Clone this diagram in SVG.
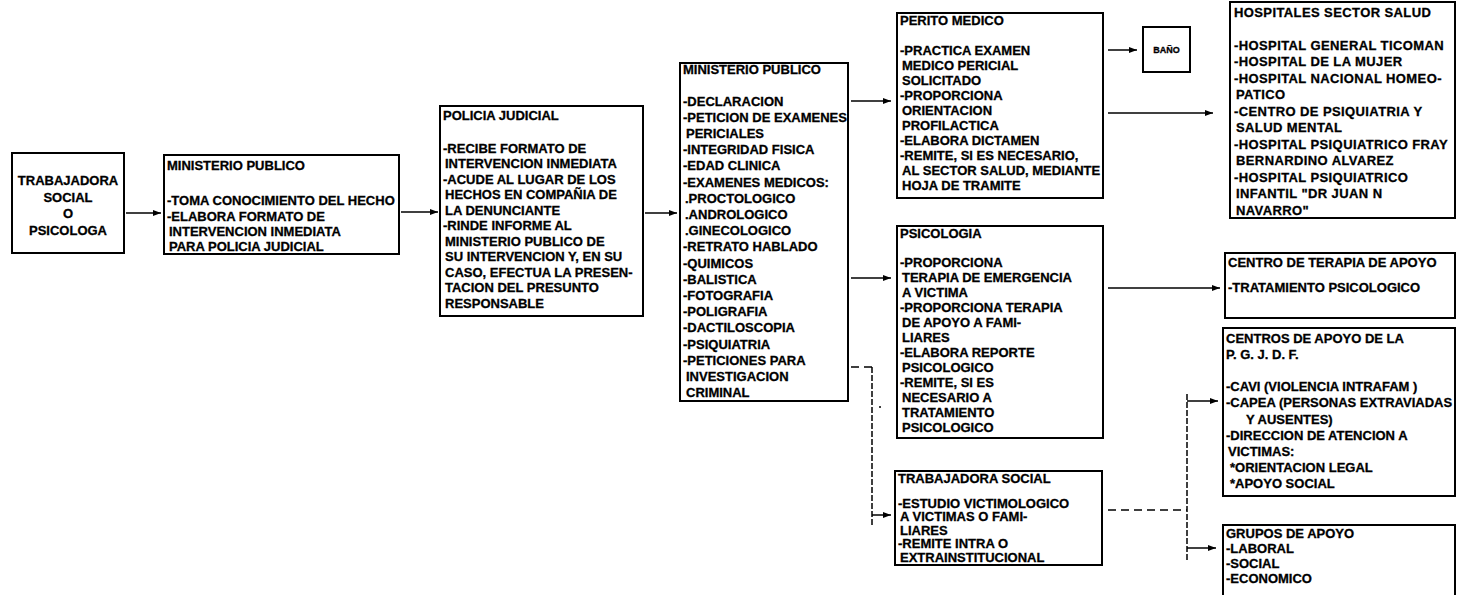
<svg xmlns="http://www.w3.org/2000/svg" width="1460" height="595" viewBox="0 0 1460 595">
<style>
.bg{fill:#ffffff}
.box{fill:#ffffff;stroke:#000;stroke-width:2}
.t{font-family:"Liberation Sans",Arial,sans-serif;font-weight:bold;font-size:13px;fill:#000;stroke:#000;stroke-width:0.3}
.c{text-anchor:middle}
.w{letter-spacing:0.4px}
.sm{font-size:9px}
.ln{fill:none;stroke:#000;stroke-width:1.5}
.dh{fill:none;stroke:#000;stroke-width:1.5;stroke-dasharray:8 5}
.dv{fill:none;stroke:#000;stroke-width:1.5;stroke-dasharray:6 2}
</style>
<defs>
<marker id="ah" markerUnits="userSpaceOnUse" markerWidth="8" markerHeight="6" refX="8" refY="3" orient="auto">
<path d="M0,0 L8,3 L0,6 z" fill="#000"/>
</marker>
</defs>
<rect class="bg" x="0" y="0" width="1460" height="595"/>

<g id="connectors">
<line class="ln" x1="126" y1="213" x2="161" y2="213" marker-end="url(#ah)"/>
<line class="ln" x1="401" y1="212" x2="438" y2="212" marker-end="url(#ah)"/>
<line class="ln" x1="645" y1="213" x2="677" y2="213" marker-end="url(#ah)"/>
<line class="ln" x1="851" y1="101" x2="891" y2="101" marker-end="url(#ah)"/>
<line class="ln" x1="851" y1="278" x2="891" y2="278" marker-end="url(#ah)"/>
<polyline class="dh" points="851,367 872,367"/>
<line class="dv" x1="872" y1="367" x2="872" y2="525"/>
<line class="ln" x1="872" y1="515" x2="891" y2="515" marker-end="url(#ah)"/>
<circle cx="880" cy="407" r="1" fill="#000"/>
<line class="ln" x1="1108" y1="50" x2="1137" y2="50" marker-end="url(#ah)"/>
<line class="ln" x1="1108" y1="113" x2="1213" y2="113" marker-end="url(#ah)"/>
<line class="ln" x1="1108" y1="288" x2="1220" y2="288" marker-end="url(#ah)"/>
<line class="dh" x1="1108" y1="510" x2="1187" y2="510"/>
<line class="dv" x1="1187" y1="394" x2="1187" y2="562"/>
<line class="ln" x1="1187" y1="401" x2="1218" y2="401" marker-end="url(#ah)"/>
<line class="ln" x1="1187" y1="548" x2="1216" y2="548" marker-end="url(#ah)"/>
</g>

<g id="n1">
<rect class="box" x="12" y="153" width="112" height="100"/>
<text class="t c" x="68" y="185">TRABAJADORA</text>
<text class="t c" x="68" y="201.5">SOCIAL</text>
<text class="t c" x="68" y="218">O</text>
<text class="t c" x="68" y="234.5">PSICOLOGA</text>
</g>

<g id="n2">
<rect class="box" x="164" y="155" width="235" height="99"/>
<text class="t" x="167" y="170">MINISTERIO PUBLICO</text>
<text class="t" x="167" y="205">-TOMA CONOCIMIENTO DEL HECHO</text>
<text class="t" x="167" y="220.5">-ELABORA FORMATO DE</text>
<text class="t" x="169" y="236">INTERVENCION INMEDIATA</text>
<text class="t" x="169" y="251">PARA POLICIA JUDICIAL</text>
</g>

<g id="n3">
<rect class="box" x="440" y="106" width="203" height="210"/>
<text class="t" x="443" y="120">POLICIA JUDICIAL</text>
<text class="t" x="443" y="152.5">-RECIBE FORMATO DE</text>
<text class="t" x="445" y="168">INTERVENCION INMEDIATA</text>
<text class="t" x="443" y="183.5">-ACUDE AL LUGAR DE LOS</text>
<text class="t" x="445" y="199">HECHOS EN COMPAÑIA DE</text>
<text class="t" x="445" y="214.5">LA DENUNCIANTE</text>
<text class="t" x="443" y="230">-RINDE INFORME AL</text>
<text class="t" x="445" y="245.5">MINISTERIO PUBLICO DE</text>
<text class="t" x="445" y="261">SU INTERVENCION Y, EN SU</text>
<text class="t" x="445" y="276.5">CASO, EFECTUA LA PRESEN-</text>
<text class="t" x="445" y="292">TACION DEL PRESUNTO</text>
<text class="t" x="445" y="307.5">RESPONSABLE</text>
</g>

<g id="n4">
<rect class="box" x="680" y="63" width="168" height="338"/>
<text class="t" x="683" y="73.5">MINISTERIO PUBLICO</text>
<text class="t" x="683" y="105.5">-DECLARACION</text>
<text class="t" x="683" y="121.7">-PETICION DE EXAMENES</text>
<text class="t" x="686" y="137.9">PERICIALES</text>
<text class="t" x="683" y="154.1">-INTEGRIDAD FISICA</text>
<text class="t" x="683" y="170.3">-EDAD CLINICA</text>
<text class="t" x="683" y="186.5">-EXAMENES MEDICOS:</text>
<text class="t" x="685" y="202.7">.PROCTOLOGICO</text>
<text class="t" x="685" y="218.9">.ANDROLOGICO</text>
<text class="t" x="685" y="235.1">.GINECOLOGICO</text>
<text class="t" x="683" y="251.3">-RETRATO HABLADO</text>
<text class="t" x="683" y="267.5">-QUIMICOS</text>
<text class="t" x="683" y="283.7">-BALISTICA</text>
<text class="t" x="683" y="299.9">-FOTOGRAFIA</text>
<text class="t" x="683" y="316.1">-POLIGRAFIA</text>
<text class="t" x="683" y="332.3">-DACTILOSCOPIA</text>
<text class="t" x="683" y="348.5">-PSIQUIATRIA</text>
<text class="t" x="683" y="364.7">-PETICIONES PARA</text>
<text class="t" x="686" y="380.9">INVESTIGACION</text>
<text class="t" x="686" y="397.1">CRIMINAL</text>
</g>

<g id="n5">
<rect class="box" x="897" y="13" width="206" height="185"/>
<text class="t" x="900" y="24.5">PERITO MEDICO</text>
<text class="t" x="900" y="54.5">-PRACTICA EXAMEN</text>
<text class="t" x="902" y="69.5">MEDICO PERICIAL</text>
<text class="t" x="902" y="84.5">SOLICITADO</text>
<text class="t" x="900" y="99.5">-PROPORCIONA</text>
<text class="t" x="902" y="114.5">ORIENTACION</text>
<text class="t" x="902" y="129.5">PROFILACTICA</text>
<text class="t" x="900" y="144.5">-ELABORA DICTAMEN</text>
<text class="t" x="900" y="159.5">-REMITE, SI ES NECESARIO,</text>
<text class="t" x="902" y="174.5">AL SECTOR SALUD, MEDIANTE</text>
<text class="t" x="902" y="189.5">HOJA DE TRAMITE</text>
</g>

<g id="n6">
<rect class="box" x="1143" y="27" width="47" height="45"/>
<text class="t c sm" x="1166.5" y="53">BAÑO</text>
</g>

<g id="n7">
<rect class="box" x="897" y="226" width="206" height="212"/>
<text class="t" x="900" y="238">PSICOLOGIA</text>
<text class="t" x="900" y="266.5">-PROPORCIONA</text>
<text class="t" x="902" y="281.5">TERAPIA DE EMERGENCIA</text>
<text class="t" x="902" y="296.5">A VICTIMA</text>
<text class="t" x="900" y="311.5">-PROPORCIONA TERAPIA</text>
<text class="t" x="902" y="326.5">DE APOYO  A FAMI-</text>
<text class="t" x="902" y="341.5">LIARES</text>
<text class="t" x="900" y="356.5">-ELABORA REPORTE</text>
<text class="t" x="902" y="371.5">PSICOLOGICO</text>
<text class="t" x="900" y="386.5">-REMITE, SI ES</text>
<text class="t" x="902" y="401.5">NECESARIO A</text>
<text class="t" x="902" y="416.5">TRATAMIENTO</text>
<text class="t" x="902" y="431.5">PSICOLOGICO</text>
</g>

<g id="n8">
<rect class="box" x="895" y="471" width="207" height="94"/>
<text class="t" x="898" y="482.5">TRABAJADORA SOCIAL</text>
<text class="t" x="898" y="507.5">-ESTUDIO VICTIMOLOGICO</text>
<text class="t" x="900" y="521">A VICTIMAS O FAMI-</text>
<text class="t" x="900" y="534.5">LIARES</text>
<text class="t" x="898" y="548">-REMITE INTRA O</text>
<text class="t" x="900" y="561.5">EXTRAINSTITUCIONAL</text>
</g>

<g id="n9">
<rect class="box" x="1230" y="2" width="225" height="216"/>
<text class="t w" x="1234" y="16.5">HOSPITALES SECTOR SALUD</text>
<text class="t w" x="1234" y="49.5">-HOSPITAL GENERAL TICOMAN</text>
<text class="t w" x="1234" y="66">-HOSPITAL DE LA MUJER</text>
<text class="t w" x="1234" y="82.5">-HOSPITAL NACIONAL HOMEO-</text>
<text class="t w" x="1236" y="99">PATICO</text>
<text class="t w" x="1234" y="115.5">-CENTRO DE PSIQUIATRIA Y</text>
<text class="t w" x="1236" y="132">SALUD MENTAL</text>
<text class="t w" x="1234" y="148.5">-HOSPITAL PSIQUIATRICO FRAY</text>
<text class="t w" x="1236" y="165">BERNARDINO ALVAREZ</text>
<text class="t w" x="1234" y="181.5">-HOSPITAL PSIQUIATRICO</text>
<text class="t w" x="1236" y="198">INFANTIL "DR JUAN N</text>
<text class="t w" x="1236" y="214.5">NAVARRO"</text>
</g>

<g id="n10">
<rect class="box" x="1225" y="253" width="230" height="65"/>
<text class="t" x="1228" y="266.5">CENTRO DE TERAPIA DE APOYO</text>
<text class="t" x="1228" y="291.5">-TRATAMIENTO PSICOLOGICO</text>
</g>

<g id="n11">
<rect class="box" x="1223" y="328" width="232" height="168"/>
<text class="t" x="1226" y="342.5">CENTROS DE APOYO DE LA</text>
<text class="t" x="1226" y="358.7">P. G. J. D. F.</text>
<text class="t" x="1226" y="391.1">-CAVI (VIOLENCIA INTRAFAM )</text>
<text class="t" x="1226" y="407.3">-CAPEA (PERSONAS EXTRAVIADAS</text>
<text class="t" x="1246" y="423.5">Y AUSENTES)</text>
<text class="t" x="1226" y="439.7">-DIRECCION DE ATENCION A</text>
<text class="t" x="1228" y="455.9">VICTIMAS:</text>
<text class="t" x="1230" y="472.1">*ORIENTACION LEGAL</text>
<text class="t" x="1230" y="488.3">*APOYO SOCIAL</text>
</g>

<g id="n12">
<rect class="box" x="1223" y="525" width="232" height="80"/>
<text class="t" x="1226" y="537.5">GRUPOS DE APOYO</text>
<text class="t" x="1226" y="552.5">-LABORAL</text>
<text class="t" x="1226" y="567.5">-SOCIAL</text>
<text class="t" x="1226" y="582.5">-ECONOMICO</text>
</g>
</svg>
